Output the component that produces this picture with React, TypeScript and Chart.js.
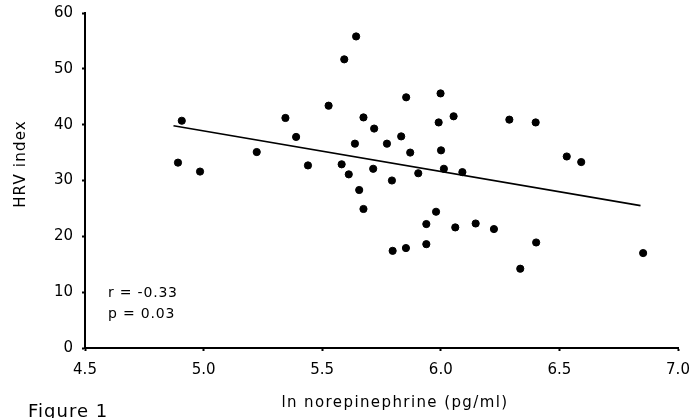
import React, { useEffect, useRef } from "react";
import { Chart, registerables } from "chart.js";

Chart.register(...registerables);

// ln norepinephrine (pg/ml)
const xValues = [
  4.892, 4.908, 4.985, 5.224, 5.345, 5.39, 5.44, 5.527, 5.593, 5.582,
  5.612, 5.643, 5.854, 5.999, 5.674, 5.719, 6.054, 5.991, 6.289, 6.4,
  5.638, 5.773, 5.833, 5.871, 6.001, 5.715, 5.794, 5.905, 6.013, 6.091,
  6.531, 6.592, 5.656, 5.674, 5.98, 5.939, 6.061, 6.147, 6.224, 5.797,
  5.853, 5.939, 6.402, 6.335, 6.853,
];
// HRV index
const yValues = [
  33.2, 40.7, 31.6, 35.1, 41.2, 37.8, 32.7, 43.4, 51.7, 32.9,
  31.1, 55.8, 44.9, 45.6, 41.3, 39.3, 41.5, 40.4, 40.9, 40.4,
  36.6, 36.6, 37.9, 35.0, 35.4, 32.1, 30.0, 31.3, 32.1, 31.5,
  34.3, 33.3, 28.3, 24.9, 24.4, 22.2, 21.6, 22.3, 21.3, 17.4,
  17.9, 18.6, 18.9, 14.2, 17.0,
];
// regression line end points
const fitX = [4.873, 6.842];
const fitY = [39.8, 25.5];

const xTickLabels = ["4.5", "5.0", "5.5", "6.0", "6.5", "7.0"];
const yTickLabels = ["0", "10", "20", "30", "40", "50", "60"];

const xTitle = "ln norepinephrine (pg/ml)";
const yTitle = "HRV index";
const statLines = ["r = -0.33", "p = 0.03"];
const figureLabel = "Figure 1";

const FONT = "'DejaVu Sans', sans-serif";

const textPlugin = {
  id: "textPlugin",
  afterDraw(chart: any) {
    const ctx = chart.ctx as CanvasRenderingContext2D;
    const xs = chart.scales.x;
    const ys = chart.scales.y;
    ctx.save();
    ctx.fillStyle = "#000";
    // x title
    (ctx as any).letterSpacing = "1.4px";
    ctx.font = `15px ${FONT}`;
    ctx.textAlign = "center";
    ctx.textBaseline = "alphabetic";
    ctx.fillText(xTitle, 395, 407);
    // y title
    ctx.save();
    (ctx as any).letterSpacing = "1.2px";
    ctx.translate(25, 164);
    ctx.rotate(-Math.PI / 2);
    ctx.fillText(yTitle, 0, 0);
    ctx.restore();
    // stats
    (ctx as any).letterSpacing = "0.8px";
    ctx.font = `14px ${FONT}`;
    ctx.textAlign = "left";
    ctx.textBaseline = "middle";
    const sx = xs.getPixelForValue(4.5) + 23;
    ctx.fillText(statLines[0], sx, ys.getPixelForValue(10) + 1);
    ctx.fillText(statLines[1], sx, ys.getPixelForValue(10) + 22);
    // figure label
    (ctx as any).letterSpacing = "1px";
    ctx.font = `18px ${FONT}`;
    ctx.textBaseline = "alphabetic";
    ctx.fillText(figureLabel, 28, 417);
    ctx.restore();
  },
};

export default function App() {
  const canvasRef = useRef<HTMLCanvasElement | null>(null);

  useEffect(() => {
    if (!canvasRef.current) return;
    const points = xValues.map((x, i) => ({ x, y: yValues[i] }));
    const fit = fitX.map((x, i) => ({ x, y: fitY[i] }));
    const chart = new Chart(canvasRef.current, {
      type: "scatter",
      data: {
        datasets: [
          {
            label: "HRV index",
            data: points,
            backgroundColor: "#000",
            borderColor: "#000",
            pointRadius: 3.6,
            pointHoverRadius: 3.6,
          },
          {
            type: "line",
            label: "fit",
            data: fit,
            borderColor: "#000",
            borderWidth: 1.6,
            pointRadius: 0,
            fill: false,
          } as any,
        ],
      },
      options: {
        responsive: false,
        animation: false,
        events: [],
        layout: { padding: { top: 13, right: 15, left: 0, bottom: 0 } },
        plugins: {
          legend: { display: false },
          tooltip: { enabled: false },
          title: { display: false },
        },
        scales: {
          x: {
            type: "linear",
            min: 4.5,
            max: 7.0,
            afterFit: (s: any) => {
              s.height = 70;
              s.paddingLeft = 0;
              s.paddingRight = 0;
            },
            ticks: {
              stepSize: 0.5,
              color: "#000",
              font: { family: FONT, size: 15 },
              padding: 10,
              maxRotation: 0,
              callback: (v: any) => {
                const i = Math.round((Number(v) - 4.5) / 0.5);
                return xTickLabels[i] ?? "";
              },
            },
            grid: {
              drawOnChartArea: false,
              drawTicks: true,
              tickLength: 3,
              tickWidth: 2,
              tickColor: "#000",
            },
            border: { display: true, color: "#000", width: 2 },
          },
          y: {
            type: "linear",
            min: 0,
            max: 60,
            afterFit: (s: any) => {
              s.width = 85;
              s.paddingTop = 0;
              s.paddingBottom = 0;
            },
            ticks: {
              stepSize: 10,
              color: "#000",
              font: { family: FONT, size: 15 },
              padding: 9,
              callback: (v: any) => {
                const i = Math.round(Number(v) / 10);
                return yTickLabels[i] ?? "";
              },
            },
            grid: {
              drawOnChartArea: false,
              drawTicks: true,
              tickLength: 3,
              tickWidth: 2,
              tickColor: "#000",
            },
            border: { display: true, color: "#000", width: 2 },
          },
        },
      },
      plugins: [textPlugin],
    });
    return () => chart.destroy();
  }, []);

  return (
    <div style={{ position: "absolute", left: 0, top: 0, width: 693, height: 418, background: "#fff" }}>
      <canvas ref={canvasRef} width={693} height={418} />
    </div>
  );
}
